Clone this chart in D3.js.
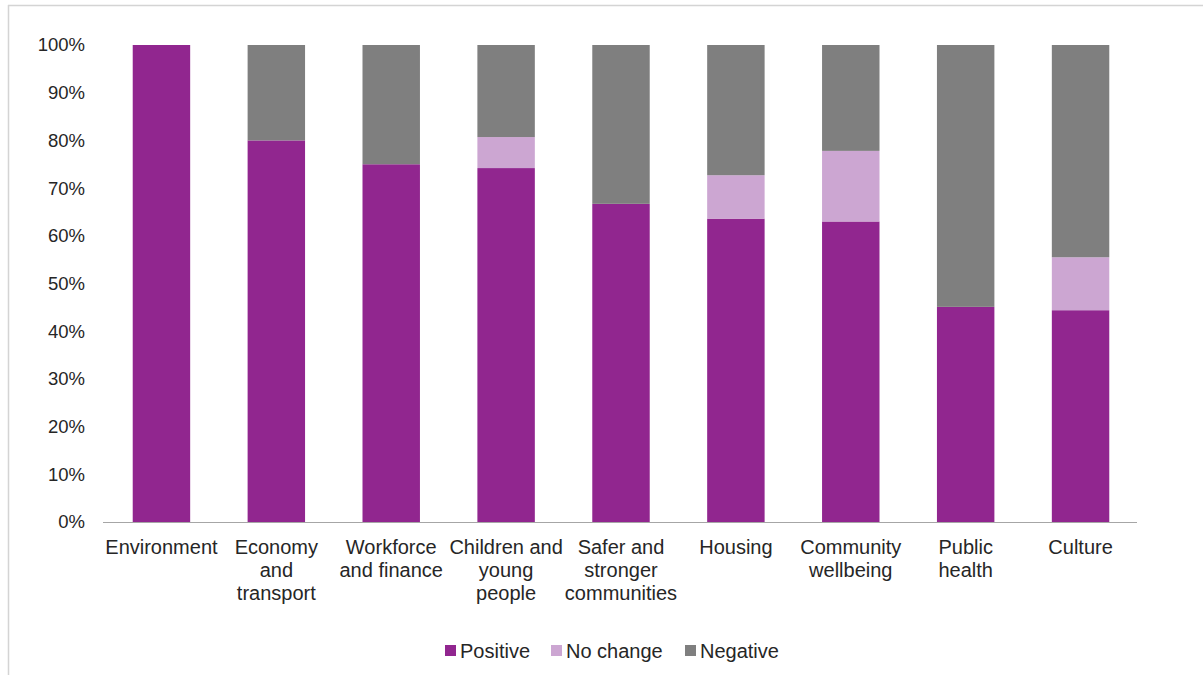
<!DOCTYPE html>
<html>
<head>
<meta charset="utf-8">
<script src="https://cdn.jsdelivr.net/npm/d3@7"></script>
<style>
  html, body { margin: 0; padding: 0; background: #fff; }
  svg { display: block; }
  text { font-family: "Liberation Sans", Arial, sans-serif; fill: #262626; }
</style>
</head>
<body>
<svg id="chart" width="1203" height="675"></svg>
<script>
// Share of outcomes by policy area (percent)
const categories = [
  ["Environment"],
  ["Economy", "and", "transport"],
  ["Workforce", "and finance"],
  ["Children and", "young", "people"],
  ["Safer and", "stronger", "communities"],
  ["Housing"],
  ["Community", "wellbeing"],
  ["Public", "health"],
  ["Culture"]
];
const positive = [100, 80, 75, 74.2, 66.7, 63.6, 63.0, 45.1, 44.4];
const noChange = [0, 0, 0, 6.5, 0, 9.1, 14.8, 0, 11.1];
const negative = [0, 20, 25, 19.3, 33.3, 27.3, 22.2, 54.9, 44.5];
const seriesNames = ["Positive", "No change", "Negative"];
const seriesColors = ["#91268f", "#cca6d2", "#7f7f7f"];
const yTicks = [0, 10, 20, 30, 40, 50, 60, 70, 80, 90, 100];

const svg = d3.select("#chart");

// Outer frame (top and left edges visible)
svg.append("line").attr("x1", 8).attr("x2", 1203).attr("y1", 5.5).attr("y2", 5.5)
  .attr("stroke", "#d4d4d4").attr("stroke-width", 1.5);
svg.append("line").attr("x1", 8.5).attr("x2", 8.5).attr("y1", 5).attr("y2", 675)
  .attr("stroke", "#d4d4d4").attr("stroke-width", 1.5);

const keys = categories.map((c, i) => "c" + i);
const rows = keys.map((k, i) => ({
  key: k, Positive: positive[i], "No change": noChange[i], Negative: negative[i]
}));

const x = d3.scaleBand().domain(keys).range([104, 1138]).paddingInner(0.5).paddingOuter(0.25);
const y = d3.scaleLinear().domain([0, 100]).range([522, 45]);

const stack = d3.stack().keys(seriesNames)(rows);

svg.append("g").selectAll("g").data(stack).join("g")
  .attr("fill", (d, i) => seriesColors[i])
  .selectAll("rect").data(d => d).join("rect")
  .attr("x", d => x(d.data.key))
  .attr("width", x.bandwidth())
  .attr("y", d => y(d[1]))
  .attr("height", d => Math.max(0, y(d[0]) - y(d[1])));

// Y axis labels
const yAxis = d3.axisLeft(y).tickValues(yTicks).tickFormat(d => d + "%").tickSize(0).tickPadding(18);
const yg = svg.append("g").attr("transform", "translate(103,0)").call(yAxis);
yg.select(".domain").remove();
yg.selectAll("text").attr("font-size", 18.5).attr("fill", "#262626")
  .attr("font-family", "Liberation Sans, Arial, sans-serif");

// X axis baseline
svg.append("line").attr("x1", 103).attr("x2", 1137).attr("y1", 522.5).attr("y2", 522.5)
  .attr("stroke", "#a6a6a6").attr("stroke-width", 1);

// Category labels
const xl = svg.append("g").selectAll("text").data(categories).join("text")
  .attr("text-anchor", "middle")
  .attr("font-size", 20)
  .attr("x", (d, i) => x(keys[i]) + x.bandwidth() / 2)
  .attr("y", 554);
xl.selectAll("tspan").data(d => d).join("tspan")
  .attr("x", function () { return d3.select(this.parentNode).attr("x"); })
  .attr("dy", (d, i) => i === 0 ? 0 : 23)
  .text(d => d);

// Legend
const legendX = [445, 551, 685];
const lg = svg.append("g").selectAll("g").data(seriesNames).join("g")
  .attr("transform", (d, i) => `translate(${legendX[i]},651)`);
lg.append("rect").attr("x", 0).attr("y", -6).attr("width", 11).attr("height", 11)
  .attr("fill", (d, i) => seriesColors[i]);
lg.append("text").attr("x", 15).attr("y", 7).attr("font-size", 20).text(d => d);
</script>
</body>
</html>
